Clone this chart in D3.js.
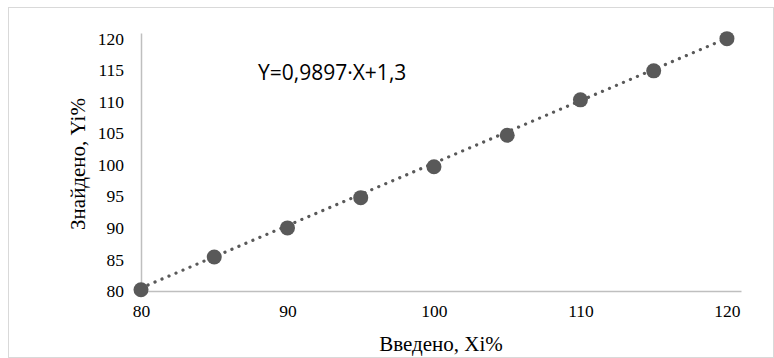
<!DOCTYPE html>
<html>
<head>
<meta charset="utf-8">
<script src="https://cdn.jsdelivr.net/npm/d3@7"></script>
<style>
  body { margin: 0; background: #fff; }
  svg { display: block; }
</style>
</head>
<body>
<div id="chart"></div>
<script>
const xValues = [80, 85, 90, 95, 100, 105, 110, 115, 120];
const yValues = [80.2, 85.4, 90.0, 94.8, 99.7, 104.7, 110.3, 114.9, 120.0];
const xTicks = [80, 90, 100, 110, 120];
const yTicks = [80, 85, 90, 95, 100, 105, 110, 115, 120];
const trendSlope = 0.9897;
const trendIntercept = 1.3;
const equationLabel = "Y=0,9897·X+1,3";

const W = 774, H = 358;
const margin = { top: 33, right: 33, bottom: 67, left: 141 };
const width = W - margin.left - margin.right,
    height = H - margin.top - margin.bottom;
const serif = "'Liberation Serif', 'Times New Roman', serif";

const svg = d3.select("#chart").append("svg")
    .attr("width", W)
    .attr("height", H);

// chart border
svg.append("rect")
    .attr("x", 8.5).attr("y", 7.5)
    .attr("width", W - 9).attr("height", H - 8)
    .attr("fill", "none")
    .attr("stroke", "#d9d9d9");

const g = svg.append("g")
    .attr("transform", `translate(${margin.left},${margin.top})`);

const x = d3.scaleLinear().domain([80, 120.96]).range([0, width]);
const y = d3.scaleLinear().domain([80, 120.9]).range([height, 0]);

// axes
const xAxis = g.append("g")
    .attr("transform", `translate(0,${height})`)
    .call(d3.axisBottom(x).tickValues(xTicks).tickSize(0).tickPadding(14));
const yAxis = g.append("g")
    .call(d3.axisLeft(y).tickValues(yTicks).tickSize(0).tickPadding(17));

[xAxis, yAxis].forEach(a => {
    a.select(".domain").attr("stroke", "#bfbfbf").attr("stroke-width", 1.5);
    a.selectAll("text")
        .style("font-family", serif)
        .style("font-size", "17.5px")
        .attr("fill", "#000");
});

// trend line
const tx = [80, 120];
g.append("line")
    .attr("x1", x(tx[0])).attr("y1", y(trendSlope * tx[0] + trendIntercept))
    .attr("x2", x(tx[1])).attr("y2", y(trendSlope * tx[1] + trendIntercept))
    .attr("stroke", "#595959")
    .attr("stroke-width", 3.2)
    .attr("stroke-linecap", "round")
    .attr("stroke-dasharray", "0.1 7.5");

// points
g.selectAll("circle.pt")
    .data(xValues.map((d, i) => ({ x: d, y: yValues[i] })))
    .enter()
    .append("circle")
    .attr("class", "pt")
    .attr("cx", d => x(d.x))
    .attr("cy", d => y(d.y))
    .attr("r", 7.5)
    .attr("fill", "#595959");

// equation
svg.append("text")
    .attr("x", 258).attr("y", 80)
    .style("font-family", "'Open Sans', 'Liberation Sans', sans-serif")
    .style("font-size", "21px")
    .attr("fill", "#000")
    .text(equationLabel);

// axis titles
svg.append("text")
    .attr("x", 441).attr("y", 351)
    .attr("text-anchor", "middle")
    .style("font-family", serif)
    .style("font-size", "21px")
    .text("Введено, Xi%");

svg.append("text")
    .attr("transform", "translate(85,164) rotate(-90)")
    .attr("text-anchor", "middle")
    .style("font-family", serif)
    .style("font-size", "21px")
    .text("Знайдено, Yi%");
</script>
</body>
</html>
